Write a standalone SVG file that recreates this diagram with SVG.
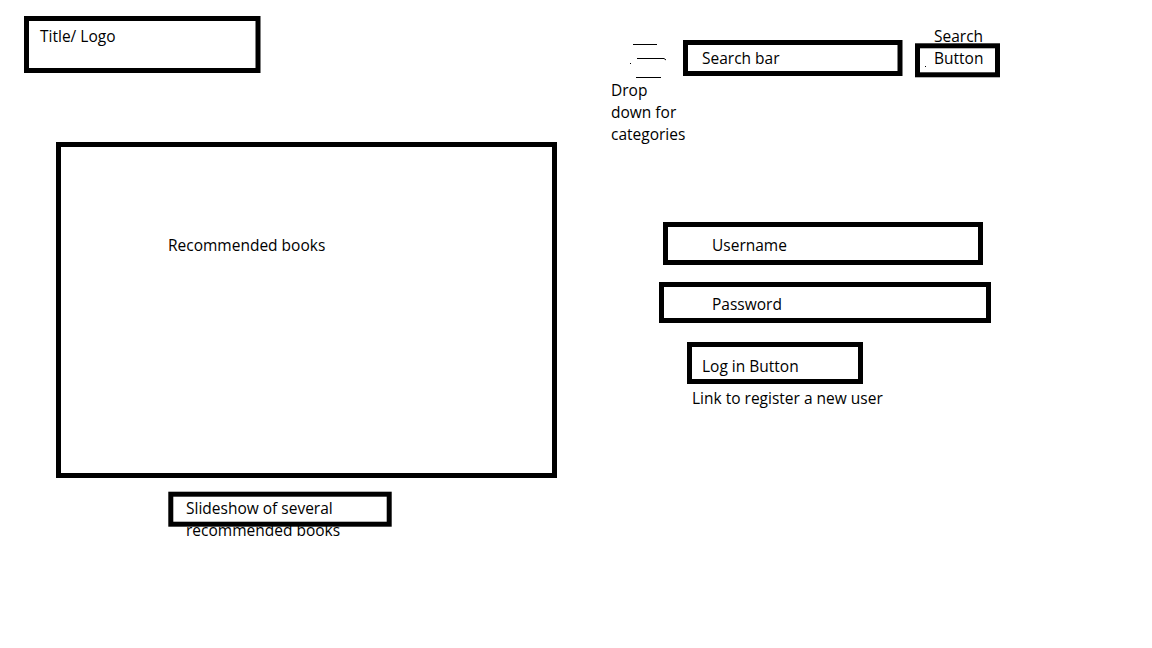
<svg xmlns="http://www.w3.org/2000/svg" width="1152" height="648" viewBox="0 0 1152 648">
<style>
.box{fill:none;stroke:#000;stroke-width:5}
.t{font-family:"Open Sans","Noto Sans","Liberation Sans",sans-serif;font-size:15.5px;fill:#000}
.ln{stroke:#000;stroke-width:1;fill:none}
</style>
<rect width="1152" height="648" fill="#fff"/>
<g id="title"><rect class="box" x="26.5" y="18.5" width="231.5" height="52"/><text class="t" x="40" y="42">Title/ Logo</text></g>
<g id="dropdown">
<path class="ln" d="M633 44.5H657M637 58.5H664L666 60M636 77.5H661"/>
<rect x="630" y="63" width="1" height="1" fill="#000"/>
<text class="t" x="611" y="96">Drop</text>
<text class="t" x="611" y="118">down for</text>
<text class="t" x="611" y="140">categories</text>
</g>
<g id="searchbar"><rect class="box" x="685.5" y="42.5" width="214.5" height="31"/><text class="t" x="702" y="64">Search bar</text></g>
<g id="searchbutton"><text class="t" x="934" y="42">Search</text><rect class="box" x="917.5" y="45.8" width="80" height="29"/><text class="t" x="934" y="64">Button</text><rect x="925" y="66" width="1" height="1" fill="#000"/></g>
<g id="recommended"><rect class="box" x="58.5" y="144.5" width="496" height="331"/><text class="t" x="168" y="251">Recommended books</text></g>
<g id="slideshow"><text class="t" x="186" y="514">Slideshow of several</text><text class="t" x="186" y="536">recommended books</text><rect class="box" x="170.8" y="494.2" width="218.4" height="30"/></g>
<g id="username"><rect class="box" x="665.5" y="224.5" width="315" height="38"/><text class="t" x="712" y="251">Username</text></g>
<g id="password"><rect class="box" x="661.5" y="284.5" width="327" height="36"/><text class="t" x="712" y="310">Password</text></g>
<g id="login"><rect class="box" x="689.5" y="344.5" width="171" height="37"/><text class="t" x="702" y="372">Log in Button</text></g>
<g id="register"><text class="t" x="692" y="404">Link to register a new user</text></g>
<g id="connectors"></g>
</svg>
